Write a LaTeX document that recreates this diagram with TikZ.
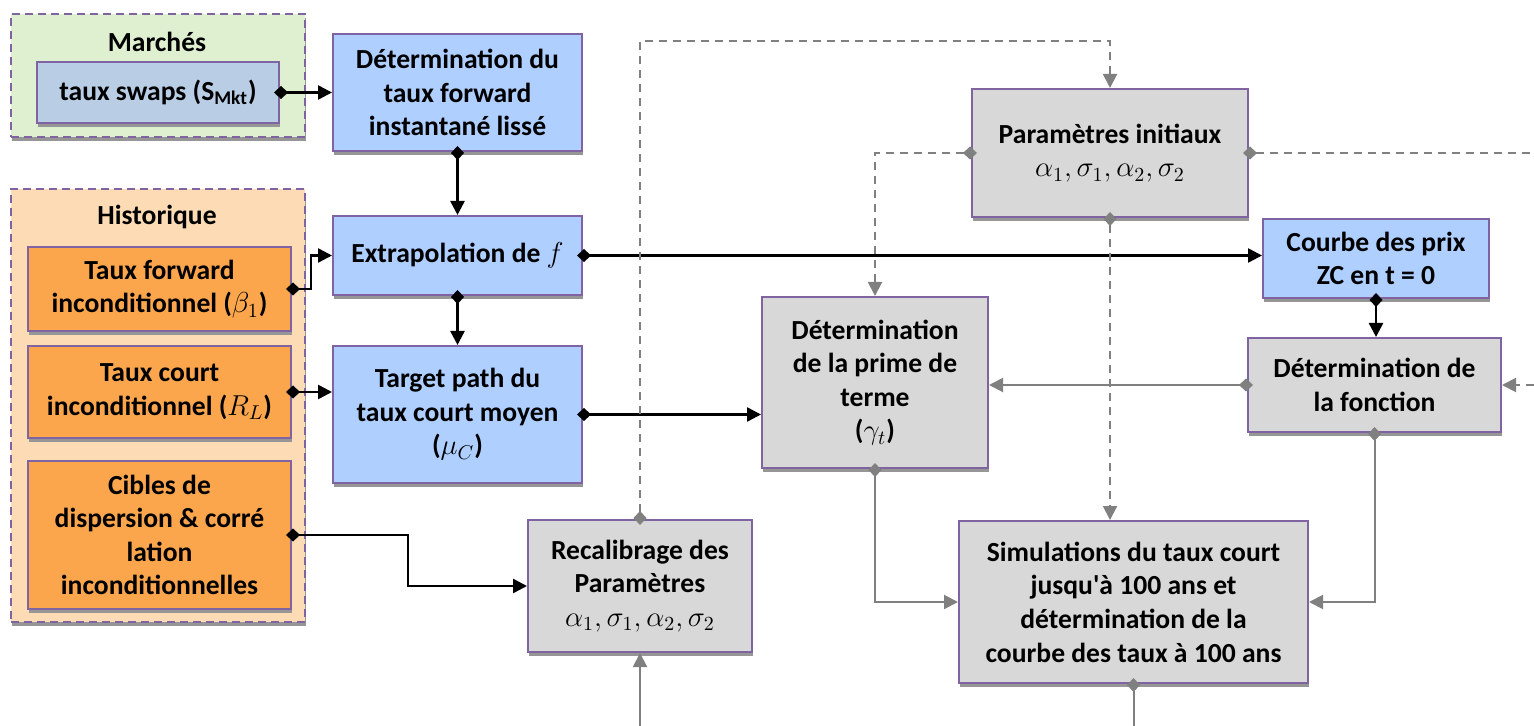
\documentclass[tikz,border=0pt]{standalone}
\usepackage{fontspec}
\setmainfont{Carlito}
\usetikzlibrary{arrows.meta,shadows}

\definecolor{boxline}{RGB}{128,100,162}
\definecolor{bluefill}{RGB}{174,207,255}
\definecolor{swapfill}{RGB}{185,205,229}
\definecolor{orangefill}{RGB}{251,166,76}
\definecolor{grayfill}{RGB}{216,216,216}
\definecolor{greenfill}{RGB}{223,240,209}
\definecolor{peachfill}{RGB}{253,219,181}
\definecolor{lnkgray}{RGB}{128,128,128}
\definecolor{shadowgray}{RGB}{150,150,150}

\tikzset{
  dia/.tip={Diamond[length=7pt,width=6.5pt]},
  tri/.tip={Triangle[length=7pt,width=7pt]}
}

\begin{document}
\begin{tikzpicture}[x=0.5pt,y=-0.5pt,
  box/.style={draw=boxline, line width=1pt, align=center, inner sep=2pt,
    font=\fontsize{13.8}{16.8}\selectfont\bfseries,
    drop shadow={shadow xshift=0.5pt, shadow yshift=-2pt, fill=shadowgray, opacity=1}},
  grp/.style={box, dash pattern=on 4pt off 2.5pt},
  grptitle/.style={font=\fontsize{13.8}{16.8}\selectfont\bfseries},
  blk/.style={line width=1.25pt, dia-tri, shorten <=-3pt},
  gry/.style={line width=1pt, draw=lnkgray, dia-tri, shorten <=-3pt},
  dsh/.style={gry, dash pattern=on 4pt off 3pt}]
  \useasboundingbox (0,0) rectangle (1534,726);

  % groupes
  \node[grp, fill=greenfill, minimum width=147pt, minimum height=61.5pt] (marches) at (158,75.5) {};
  \node[grptitle] (mtitle) at (157,42) {Marchés};
  \node[grp, fill=peachfill, minimum width=147pt, minimum height=216.5pt] (histo) at (158,405.5) {};
  \node[grptitle] (htitle) at (157,217) {Historique};

  % entrees
  \node[box, fill=swapfill, minimum width=121pt, minimum height=30.5pt] (swaps) at (158,92.5)
    {taux swaps (S\textsubscript{Mkt})};
  \node[box, fill=orangefill, minimum width=131.5pt, minimum height=42pt] (fwdinc) at (159.5,289)
    {Taux forward\\inconditionnel ($\beta_1$)};
  \node[box, fill=orangefill, minimum width=131.5pt, minimum height=46pt] (courtinc) at (159.5,392)
    {Taux court\\inconditionnel ($R_L$)};
  \node[box, fill=orangefill, minimum width=131.5pt, minimum height=74pt] (cibles) at (159.5,535)
    {Cibles de\\dispersion \& corré\\lation\\inconditionnelles};

  % colonne bleue
  \node[box, fill=bluefill, minimum width=124.5pt, minimum height=58.5pt] (detfwd) at (457.5,92.5)
    {Détermination du\\taux forward\\instantané lissé};
  \node[box, fill=bluefill, minimum width=124.5pt, minimum height=39.5pt] (extrap) at (457.5,255.5)
    {Extrapolation de $f$};
  \node[box, fill=bluefill, minimum width=124.5pt, minimum height=68.5pt] (target) at (457.5,414.5)
    {Target path du\\taux court moyen\\($\mu_C$)};
  \node[box, fill=bluefill, minimum width=113pt, minimum height=39.5pt] (courbe) at (1376,258.5)
    {Courbe des prix\\ZC en t = 0};

  % blocs gris
  \node[box, fill=grayfill, minimum width=112pt, minimum height=66pt] (recal) at (640,586)
    {Recalibrage des\\Paramètres\\\mdseries$\alpha_1, \sigma_1, \alpha_2, \sigma_2$};
  \node[box, fill=grayfill, minimum width=138pt, minimum height=64pt] (params) at (1110,153)
    {Paramètres initiaux\\\mdseries$\alpha_1, \sigma_1, \alpha_2, \sigma_2$};
  \node[box, fill=grayfill, minimum width=113pt, minimum height=85.5pt] (prime) at (875,382.5)
    {Détermination\\de la prime de\\terme\\($\gamma_t$)};
  \node[box, fill=grayfill, minimum width=126.5pt, minimum height=47pt] (fonction) at (1374.5,385)
    {Détermination de\\la fonction};
  \node[box, fill=grayfill, minimum width=174.5pt, minimum height=81pt] (simul) at (1133.5,602)
    {Simulations du taux court\\jusqu\textquotesingle à 100 ans et\\détermination de la\\courbe des taux à 100 ans};

  \coordinate (toploop) at (1110,41);
  \coordinate (redgeA) at (1534,153);
  \coordinate (redgeB) at (1534,385);
  \coordinate (simbot) at (1133.5,726);
  \coordinate (recbot) at (640,726);

  % liens noirs
  \draw[blk] (swaps.east) -- (detfwd.west);
  \draw[blk] (detfwd.south) -- (extrap.north);
  \draw[blk] (fwdinc.east) -- ++(19,0) |- (extrap.west);
  \draw[blk] (extrap.south) -- (target.north);
  \draw[blk] (courtinc.east) -- (courtinc.east -| target.west);
  \draw[blk] (cibles.east) -- ++(116,0) |- (recal.west);
  \draw[blk] (target.east) -- (target.east -| prime.west);
  \draw[blk] (extrap.east) -- (extrap.east -| courbe.west);
  \draw[blk] (courbe.south) -- (courbe.south |- fonction.north);

  % liens gris
  \draw[gry] (fonction.west) -- (fonction.west -| prime.east);
  \draw[gry] (fonction.south) |- (simul.east);
  \draw[gry] (prime.south) |- (simul.west);
  \draw[gry, dia-] (simul.south) -- (simbot);
  \draw[gry, -tri, shorten <=0pt] (recbot) -- (recal.south);

  % liens pointilles
  \draw[dsh] (recal.north) |- (toploop) -- (params.north);
  \draw[dsh] (params.west) -| (prime.north);
  \draw[dsh] (params.south) -- (params.south |- simul.north);
  \draw[dsh, dia-] (params.east) -- (redgeA);
  \draw[dsh, -tri, shorten <=0pt] (redgeB) -- (fonction.east);
\end{tikzpicture}
\end{document}
